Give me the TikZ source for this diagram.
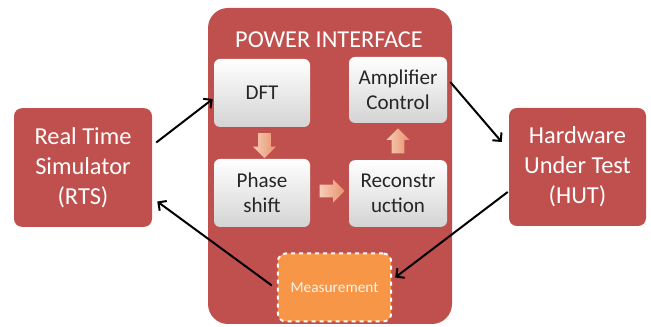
\documentclass[tikz,border=0pt]{standalone}
\usepackage{fontspec}
\setmainfont{Carlito}
\usepackage{xcolor}
\usetikzlibrary{positioning, arrows.meta, calc, shapes.arrows}
\definecolor{boxred}{HTML}{C0504D}
\definecolor{measorange}{HTML}{F79646}
\definecolor{arrowlight}{HTML}{F6CDB6}
\definecolor{arrowdark}{HTML}{E8926D}
\definecolor{textdark}{HTML}{262626}

\begin{document}
\begin{tikzpicture}[x=0.75pt,y=-0.75pt,>={Straight Barb[length=4.5pt,width=9pt]},
                outer/.style={rectangle,rounded corners=6pt,fill=boxred,text=white,align=center,
                font=\fontsize{18.3}{22.5}\selectfont,minimum width=103.5pt,minimum height=89pt,inner sep=0pt},
                inner/.style={rectangle,rounded corners=4.5pt,top color=white,bottom color=black!17,
                text=textdark,align=center,font=\fontsize{15.8}{19}\selectfont,
                minimum width=72pt,minimum height=51pt,inner sep=0pt},
                blockarrow/.style={single arrow,single arrow head extend=4pt,inner xsep=0pt,inner ysep=4.5pt,
                minimum height=18.75pt,left color=arrowlight,right color=arrowdark},
                link/.style={->,line width=1.5pt,black}]
                \useasboundingbox (0,0) rectangle (651,327);
                % power interface frame
                \node[rectangle,rounded corners=15pt,fill=boxred,minimum width=183pt,minimum height=237pt] (pi) at (330,166) {};
                \node[text=white,font=\fontsize{18.2}{20}\selectfont] (title) at (329,40) {POWER INTERFACE};
                % outer blocks
                \node[outer] (rts) at (83,167.5) {Real Time\\Simulator\\(RTS)};
                \node[outer,minimum width=102.75pt,minimum height=88.5pt] (hut) at (577.5,167) {Hardware\\Under Test\\(HUT)};
                % inner blocks
                \node[inner] (dft) at (262,93) {DFT};
                \node[inner,minimum width=73.5pt,minimum height=49.5pt] (amp) at (398,90) {Amplifier\\Control};
                \node[inner] (phase) at (262,193) {Phase\\shift};
                \node[inner,minimum width=73.5pt,minimum height=50pt] (recon) at (398,193.5) {Reconstr\\uction};
                \node[rectangle,rounded corners=6pt,fill=measorange,draw=white,dashed,line width=1.5pt,
                text=white!90!measorange,font=\fontsize{11.5}{13}\selectfont,
                minimum width=85pt,minimum height=51pt] (meas) at (334.5,287.5) {Measurement};
                % small arrows
                \node[blockarrow,rotate=-90] (down) at (264.5,142.5) {};
                \node[blockarrow] (right) at (329,191) {};
                \node[blockarrow,rotate=90] (up) at (398,144) {};
                % links
                \draw[link] ($(rts.east)+(4,-25)$) -- ($(dft.west)+(-1,6)$);
                \draw[link] ($(amp.east)+(3,-8)$) -- ($(hut.west)+(-7,-25)$);
                \draw[link] ($(hut.west)+(-1,25)$) -- ($(meas.east)+(3,-10)$);
                \draw[link] ($(meas.west)+(-5,-2)$) -- ($(rts.east)+(5,34)$);
            \end{tikzpicture}
\end{document}
